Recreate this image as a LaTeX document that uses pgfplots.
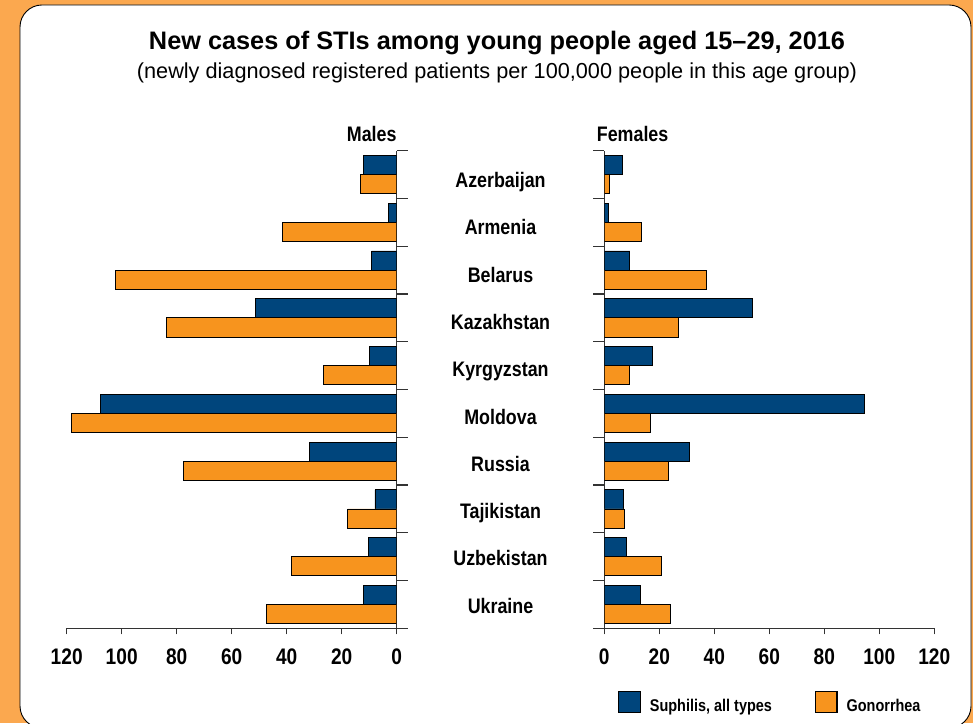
\documentclass[border=0pt]{standalone}
\usepackage{pgfplots}
\usepackage{pgfplotstable}
\pgfplotsset{compat=1.18}
\usepackage{fontspec}
\setmainfont{Liberation Sans}
\newfontfamily\cond[FakeStretch=0.85]{Liberation Sans}
\definecolor{bgorange}{HTML}{FBA84F}
\definecolor{barorange}{HTML}{F7941E}
\definecolor{barblue}{HTML}{00457C}
\definecolor{axisgray}{HTML}{333333}

\pgfplotstableread{
pos msyph mgon fsyph fgon
9 12.1 13.1 6.7 1.8
8 3.0 41.5 1.5 13.6
7 9.1 102.4 9.3 37.2
6 51.2 83.6 53.8 26.9
5 10.0 26.5 17.6 9.3
4 107.6 118.4 94.7 16.6
3 31.8 77.6 30.9 23.2
2 7.9 17.8 6.9 7.3
1 10.3 38.2 7.9 20.9
0 12.1 47.4 13.1 24.1
}\data

\pgfplotsset{
  panel/.style={
    scale only axis, width=330pt, height=477.6pt,
    xmin=0, xmax=120, ymin=-0.5, ymax=9.5,
    xbar, bar width=0.4,
    axis x line*=bottom,
    xtick={0,20,...,120}, xticklabels={0,20,40,60,80,100,120},
    ytick=\empty,
    extra y ticks={-0.5,0.5,1.5,2.5,3.5,4.5,5.5,6.5,7.5,8.5,9.5},
    extra y tick labels={},
    extra y tick style={major tick length=11pt, tick style={line width=1.2pt, draw=axisgray}},
    tick align=outside, major tick length=6pt,
    axis line style={line width=1.2pt, draw=axisgray},
    tick style={line width=1.2pt, draw=axisgray},
    xticklabel style={font=\cond\bfseries\fontsize{22.5}{22.5}\selectfont, inner sep=0pt, anchor=north, yshift=-14pt},
  },
  syph/.style={fill=barblue, draw=black, line width=0.8pt, bar shift=0.2},
  gon/.style={fill=barorange, draw=black, line width=0.8pt, bar shift=-0.2},
}

\begin{document}
\begin{tikzpicture}[x=1pt,y=1pt]
\useasboundingbox (0,0) rectangle (973,723);
\clip (0,0) rectangle (973,723);
\fill[bgorange] (0,0) rectangle (973,723);
\draw[fill=white, rounded corners=22pt, line width=0.9pt] (20,-5) rectangle (971,718);

\node[anchor=base, font=\bfseries\fontsize{25.3}{30}\selectfont] at (497,673) {New cases of STIs among young people aged 15\textendash29, 2016};
\node[anchor=base, font=\fontsize{21.7}{26}\selectfont] at (497,644) {(newly diagnosed registered patients per 100,000 people in this age group)};

\node[anchor=base east, inner sep=0pt, font=\cond\bfseries\fontsize{21}{21}\selectfont] at (396.7,581.3) {Males};
\node[anchor=base west, inner sep=0pt, font=\cond\bfseries\fontsize{21}{21}\selectfont] at (596.7,581.3) {Females};

\begin{axis}[panel, at={(66.7pt,94.7pt)}, anchor=south west, x dir=reverse, axis y line*=right]
  \addplot[syph] table[x=msyph, y=pos]{\data};
  \addplot[gon] table[x=mgon, y=pos]{\data};
\end{axis}

\begin{axis}[panel, at={(604.3pt,94.7pt)}, anchor=south west, axis y line*=left,
  legend columns=2,
  legend image code/.code={\draw[#1, line width=1.2pt] (0pt,-6.5pt) rectangle (21.5pt,14.5pt);},
  legend style={at={(0.0415,-0.155)}, anchor=west, draw=none, fill=none, inner sep=0pt,
    font=\cond\bfseries\fontsize{17}{17}\selectfont,
    nodes={inner sep=0pt},
    /tikz/every odd column/.append style={column sep=9pt},
    /tikz/every even column/.append style={column sep=43pt}},
  ]
  \addplot[syph] table[x=fsyph, y=pos]{\data};
  \addlegendentry{Suphilis, all types}
  \addplot[gon] table[x=fgon, y=pos]{\data};
  \addlegendentry{Gonorrhea}
\end{axis}

\foreach \name [count=\i from 0] in {Azerbaijan,Armenia,Belarus,Kazakhstan,Kyrgyzstan,Moldova,Russia,Tajikistan,Uzbekistan,Ukraine} {
  \node[anchor=base, inner sep=0pt, font=\cond\bfseries\fontsize{21}{21}\selectfont] at (500.5,{723-(187.5+47.31*\i)}) {\name};
}
\end{tikzpicture}
\end{document}
